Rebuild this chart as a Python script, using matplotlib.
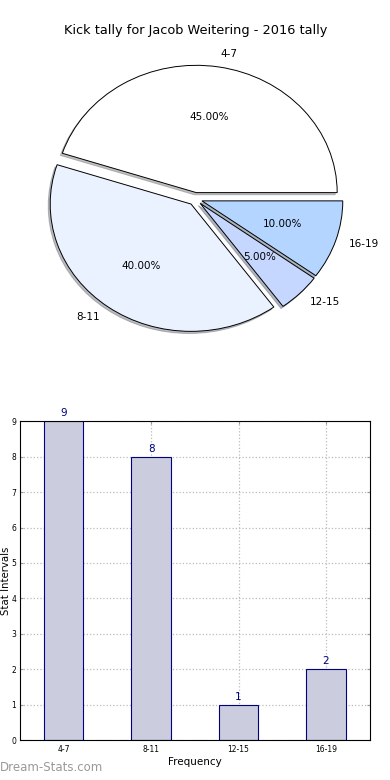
import matplotlib
matplotlib.use("Agg")
import matplotlib.pyplot as plt

# kick tally intervals and counts
intervals = ["4-7", "8-11", "12-15", "16-19"]
counts = [9, 8, 1, 2]
pie_colors = ["#ffffff", "#eaf1ff", "#c6d7ff", "#b3d5ff"]
explode = [0.05, 0.05, 0.05, 0.05]

fig = plt.figure(figsize=(3.9, 7.8), dpi=100)

# pie of the share per interval
ax1 = fig.add_axes([0.049, 0.541, 0.903, 0.408])
wedges, texts, autotexts = ax1.pie(
    counts,
    labels=intervals,
    colors=pie_colors,
    explode=explode,
    autopct="%1.2f%%",
    shadow={"ox": -0.01, "oy": -0.012, "shade": 0.5},
    startangle=0,
    wedgeprops={"edgecolor": "black", "linewidth": 0.7},
    textprops={"fontsize": 7.5},
)
ax1.set_aspect("auto")
ax1.set_xlim(-1.25, 1.25)
ax1.set_ylim(-1.25, 1.25)
ax1.set_title("Kick tally for Jacob Weitering - 2016 tally", fontsize=9.3, pad=4)

# bar chart of the same counts
ax2 = fig.add_axes([0.051, 0.051, 0.897, 0.409])
x = range(len(intervals))
bars = ax2.bar(x, counts, width=0.45, color="#ccccdf", edgecolor="#000080", linewidth=0.8, zorder=2)
for xi, c in zip(x, counts):
    ax2.text(xi, c + 0.08, str(c), ha="center", va="bottom", color="#000080", fontsize=7.5)
ax2.set_xlim(-0.5, 3.5)
ax2.set_ylim(0, 9)
ax2.set_xticks(list(x))
ax2.set_xticklabels(intervals)
ax2.set_yticks(range(10))
ax2.tick_params(labelsize=5.5, direction="in", length=2, color="#999999", top=True, right=True)
ax2.tick_params(axis="y", pad=2.5)
ax2.grid(True, linestyle=":", color="#bbbbbb", linewidth=0.9, zorder=0)
ax2.set_axisbelow(True)
ax2.set_xlabel("Frequency", fontsize=7.5, labelpad=2)
ax2.set_ylabel("Stat Intervals", fontsize=7.3)
ax2.yaxis.set_label_coords(-0.024, 0.5)
for s in ax2.spines.values():
    s.set_linewidth(0.8)

fig.text(0.0, 0.008, "Dream-Stats.com", fontsize=8.5, color="#999999", ha="left", va="bottom")

fig.savefig("out.png", dpi=100)
